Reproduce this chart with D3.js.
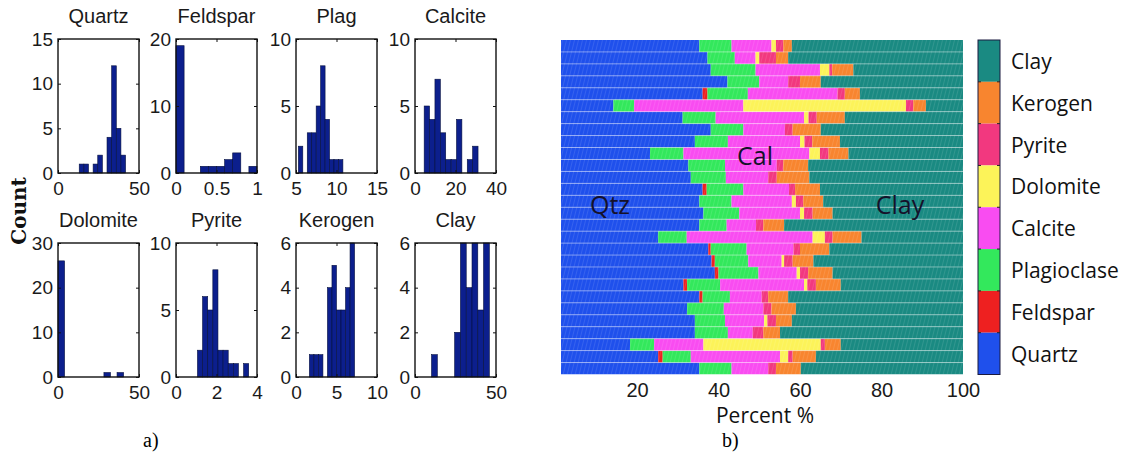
<!DOCTYPE html>
<html>
<head>
<meta charset="utf-8">
<script src="https://cdn.jsdelivr.net/npm/d3@7/dist/d3.min.js"></script>
<style>
  body { margin: 0; background: #fff; }
  svg { display: block; }
</style>
</head>
<body>
<svg id="fig" width="1148" height="462"></svg>
<script>
// ---------- panel a) histogram data ----------
const histNames = ["Quartz", "Feldspar", "Plag", "Calcite", "Dolomite", "Pyrite", "Kerogen", "Clay"];
const histCounts = [
    [1, 1, 0, 1, 2, 0, 4, 12, 5, 2],
    [19, 0, 0, 1, 1, 1, 2, 3, 0, 1],
    [2, 0, 3, 3, 5, 8, 4, 1, 1, 1],
    [5, 4, 7, 3, 1, 1, 4, 0, 1, 2],
    [26, 0, 0, 0, 0, 0, 0, 1, 0, 1],
    [2, 6, 5, 8, 2, 2, 1, 1, 0, 1],
    [1, 1, 1, 0, 4, 5, 3, 3, 4, 6],
    [1, 0, 0, 0, 2, 6, 4, 6, 3, 6]
];
const histBinStart = [13.1, 0, 5.29, 4.53, 0, 1.06, 1.65, 10.2];
const histBinWidth = [2.86, 0.1, 0.55, 2.66, 4.05, 0.253, 0.558, 3.57];
const histXDomain = [[0, 50], [0, 1], [5, 15], [0, 40], [0, 50], [0, 4], [0, 10], [0, 50]];
const histYMax = [15, 20, 10, 10, 30, 10, 6, 6];
const histXTicks = [[0, 50], [0, 0.5, 1], [5, 10, 15], [0, 20, 40], [0, 50], [0, 2, 4], [0, 5, 10], [0, 50]];
const histYTicks = [[0, 5, 10, 15], [0, 10, 20], [0, 5, 10], [0, 5, 10], [0, 10, 20, 30], [0, 5, 10], [0, 2, 4, 6], [0, 2, 4, 6]];

// ---------- panel b) composition of 28 samples (percent), top row first ----------
const minerals = ["Quartz", "Feldspar", "Plagioclase", "Calcite", "Dolomite", "Pyrite", "Kerogen", "Clay"];
const quartz   = [35.3, 37.3, 38.1, 42.2, 36.1, 14.2, 31.2, 38.1, 34.2, 23.2, 32.6, 33.2, 36.1, 35.3, 36.3, 35.3, 25.2, 37.5, 38.3, 39.1, 31.4, 35.3, 32.3, 34.2, 34.2, 18.3, 25.2, 35.3];
const feldspar = [0, 0, 0, 0, 1.2, 0, 0, 0, 0, 0, 0, 0, 1.0, 0, 0, 0, 0, 0.6, 0.8, 0.9, 0.9, 0.8, 0, 0, 0, 0, 1.1, 0];
const plag     = [7.9, 6.7, 11.0, 7.8, 9.9, 5.1, 8.1, 8.0, 8.1, 8.2, 9.0, 8.6, 9.0, 7.9, 8.8, 6.7, 7.0, 8.8, 8.2, 9.8, 8.1, 6.7, 9.0, 7.4, 8.1, 5.9, 6.9, 7.9];
const calcite  = [9.8, 5.1, 15.8, 7.1, 22.0, 26.8, 21.7, 10.2, 17.7, 30.9, 12.7, 10.4, 11.2, 14.8, 14.9, 7.2, 30.9, 11.5, 8.2, 9.4, 20.6, 7.8, 9.7, 9.6, 6.1, 12.1, 21.9, 9.0];
const dolomite = [1.1, 0.9, 2.3, 0, 0, 39.9, 1.1, 0, 1.1, 2.6, 0, 0, 0, 1.0, 1.0, 0, 3.0, 0, 0.6, 0.8, 0.8, 0, 0, 0.8, 0, 28.8, 2.0, 0];
const pyrite   = [1.8, 4.1, 0.7, 2.9, 1.8, 1.8, 2.0, 1.9, 1.9, 2.1, 1.6, 2.1, 1.5, 1.8, 2.1, 1.8, 1.9, 1.6, 2.1, 2.0, 2.1, 1.6, 2.0, 2.1, 2.6, 1.0, 1.1, 1.9];
const kerogen  = [2.1, 3.0, 5.2, 5.1, 3.7, 3.1, 6.9, 6.9, 6.8, 4.9, 6.1, 8.0, 6.1, 4.9, 4.9, 5.1, 7.1, 7.2, 5.1, 6.0, 6.1, 4.9, 6.0, 3.9, 4.1, 3.9, 5.7, 6.1];
const clay     = [42.0, 42.9, 26.9, 34.9, 25.3, 9.1, 29.0, 34.9, 30.2, 28.1, 38.0, 37.7, 35.1, 34.3, 32.0, 43.9, 24.9, 32.8, 36.7, 32.0, 30.0, 42.9, 41.0, 42.0, 44.9, 30.0, 36.1, 39.8];
const percentTicks = [20, 40, 60, 80, 100];

const mineralColors = {
    Quartz: "#1f50ec",
    Feldspar: "#ee2020",
    Plagioclase: "#33e85c",
    Calcite: "#f94cf1",
    Dolomite: "#fcf359",
    Pyrite: "#f2387f",
    Kerogen: "#f8852f",
    Clay: "#1a8a82"
};

const svg = d3.select("#fig");
const tickFont = "'Liberation Sans', Arial, sans-serif";
const calibriLike = "'Open Sans', Lato, sans-serif";

// ---------- panel a) ----------
const boxLefts = [58, 176, 296, 415], boxTops = [39, 243];
const boxW = 81, boxH = 134;

function styleAxis(g) {
    g.select(".domain").remove();
    g.selectAll("line").attr("stroke", "#111");
    g.selectAll("text").attr("font-family", tickFont).attr("font-size", 19).attr("fill", "#1a1a1a");
}

histNames.forEach((name, i) => {
    let left = boxLefts[i % 4], top = boxTops[Math.floor(i / 4)];
    let x = d3.scaleLinear().domain(histXDomain[i]).range([left, left + boxW]);
    let y = d3.scaleLinear().domain([0, histYMax[i]]).range([top + boxH, top]);
    let bins = histCounts[i].map((c, j) => ({
        x0: histBinStart[i] + j * histBinWidth[i],
        x1: histBinStart[i] + (j + 1) * histBinWidth[i],
        count: c
    })).filter(d => d.count > 0);

    let g = svg.append("g");
    g.selectAll("rect.bar")
        .data(bins)
        .enter()
        .append("rect")
        .attr("class", "bar")
        .attr("x", d => x(d.x0))
        .attr("width", d => x(d.x1) - x(d.x0))
        .attr("y", d => y(d.count))
        .attr("height", d => y(0) - y(d.count))
        .attr("fill", "#0c1f8d")
        .attr("stroke", "#05103f")
        .attr("stroke-width", 0.6);

    g.append("g").attr("transform", `translate(${left},0)`)
        .call(d3.axisLeft(y).tickValues(histYTicks[i]).tickSizeInner(-3).tickSizeOuter(0).tickPadding(5).tickFormat(d3.format("~g")))
        .call(styleAxis);
    g.append("g").attr("transform", `translate(${left + boxW},0)`)
        .call(d3.axisRight(y).tickValues(histYTicks[i]).tickSizeInner(-3).tickSizeOuter(0).tickFormat(""))
        .call(styleAxis);
    g.append("g").attr("transform", `translate(0,${top + boxH})`)
        .call(d3.axisBottom(x).tickValues(histXTicks[i]).tickSizeInner(-3).tickSizeOuter(0).tickPadding(9).tickFormat(d3.format("~g")))
        .call(styleAxis);
    g.append("g").attr("transform", `translate(0,${top})`)
        .call(d3.axisTop(x).tickValues(histXTicks[i]).tickSizeInner(-3).tickSizeOuter(0).tickFormat(""))
        .call(styleAxis);

    g.append("rect")
        .attr("x", left).attr("y", top)
        .attr("width", boxW).attr("height", boxH)
        .attr("fill", "none").attr("stroke", "#111").attr("stroke-width", 1.4);

    g.append("text")
        .attr("x", left + boxW / 2).attr("y", top - 16)
        .attr("text-anchor", "middle")
        .attr("font-family", tickFont).attr("font-size", 20).attr("fill", "#1a1a1a")
        .text(name);
});

svg.append("text")
    .attr("transform", "translate(26,211) rotate(-90)")
    .attr("text-anchor", "middle")
    .attr("font-family", "'DejaVu Serif', serif").attr("font-size", 20).attr("font-weight", "bold")
    .attr("fill", "#111")
    .text("Count");

// ---------- panel b) ----------
let table = quartz.map((q, i) => ({
    Quartz: q, Feldspar: feldspar[i], Plagioclase: plag[i], Calcite: calcite[i],
    Dolomite: dolomite[i], Pyrite: pyrite[i], Kerogen: kerogen[i], Clay: clay[i]
}));
let series = d3.stack().keys(minerals)(table);

let xB = d3.scaleLinear().domain([0, 100]).range([555.5, 963]);
let yB = d3.scaleBand().domain(d3.range(table.length)).range([40, 374.5]);

let defs = svg.append("defs");
defs.append("clipPath").attr("id", "plotClip")
    .append("rect").attr("x", 561).attr("y", 40).attr("width", 963 - 561).attr("height", 334.5);
let pat = defs.append("pattern").attr("id", "hatch")
    .attr("patternUnits", "userSpaceOnUse").attr("width", 4).attr("height", 12)
    .attr("patternTransform", "skewX(-14)");
pat.append("line").attr("x1", 0.5).attr("y1", 0).attr("x2", 0.5).attr("y2", 12)
    .attr("stroke", "#fff").attr("stroke-width", 0.8).attr("stroke-opacity", 0.13);

let plot = svg.append("g").attr("clip-path", "url(#plotClip)");
plot.selectAll("g.layer")
    .data(series)
    .enter()
    .append("g")
    .attr("class", "layer")
    .attr("fill", d => mineralColors[d.key])
    .selectAll("rect")
    .data(d => d)
    .enter()
    .append("rect")
    .attr("x", d => xB(d[0]))
    .attr("width", d => Math.max(0, xB(d[1]) - xB(d[0])))
    .attr("y", (d, i) => yB(i))
    .attr("height", yB.bandwidth());

plot.append("rect")
    .attr("x", 561).attr("y", 40).attr("width", 963 - 561).attr("height", 334.5)
    .attr("fill", "url(#hatch)");

// faint row separators
plot.selectAll("line.sep")
    .data(d3.range(1, table.length))
    .enter()
    .append("line")
    .attr("class", "sep")
    .attr("x1", 561).attr("x2", 963)
    .attr("y1", d => yB(d)).attr("y2", d => yB(d))
    .attr("stroke", "#ffffff").attr("stroke-opacity", 0.4).attr("stroke-width", 1);

svg.append("g").attr("transform", "translate(0,374.5)")
    .call(d3.axisBottom(xB).tickValues(percentTicks).tickSize(0).tickPadding(8))
    .call(g => {
        g.select(".domain").remove();
        g.selectAll("text").attr("font-family", tickFont).attr("font-size", 20).attr("fill", "#1a1a1a");
    });

svg.append("text")
    .attr("x", 765).attr("y", 423)
    .attr("text-anchor", "middle")
    .attr("font-family", calibriLike).attr("font-size", 21).attr("fill", "#111")
    .text("Percent %");

const inner = [["Qtz", 610, 214], ["Cal", 755, 165], ["Clay", 900, 214]];
svg.selectAll("text.inner")
    .data(inner)
    .enter()
    .append("text")
    .attr("class", "inner")
    .attr("x", d => d[1]).attr("y", d => d[2])
    .attr("text-anchor", "middle")
    .attr("font-family", calibriLike).attr("font-size", 25).attr("fill", "#15112a")
    .text(d => d[0]);

// colour bar legend
let legendKeys = minerals.slice().reverse();
let yL = d3.scaleBand().domain(legendKeys).range([40, 374.5]);
let legend = svg.append("g");
legend.selectAll("rect.sw")
    .data(legendKeys)
    .enter()
    .append("rect")
    .attr("class", "sw")
    .attr("x", 978).attr("width", 22)
    .attr("y", d => yL(d)).attr("height", yL.bandwidth())
    .attr("fill", d => mineralColors[d]);
legend.selectAll("path.tk")
    .data(legendKeys.slice(1))
    .enter()
    .append("path")
    .attr("class", "tk")
    .attr("d", d => `M978,${yL(d)}h3M1000,${yL(d)}h-3`)
    .attr("stroke", "#222").attr("stroke-width", 1);
legend.append("rect")
    .attr("x", 978).attr("y", 40).attr("width", 22).attr("height", 334.5)
    .attr("fill", "none").attr("stroke", "#1a1a40").attr("stroke-width", 1);
legend.selectAll("text")
    .data(legendKeys)
    .enter()
    .append("text")
    .attr("x", 1011)
    .attr("y", d => yL(d) + yL.bandwidth() / 2 + 8)
    .attr("font-family", calibriLike).attr("font-size", 21).attr("fill", "#111")
    .text(d => d);

// captions
svg.append("text").attr("x", 143).attr("y", 447)
    .attr("font-family", "'Liberation Serif', 'Times New Roman', serif").attr("font-size", 20)
    .text("a)");
svg.append("text").attr("x", 722).attr("y", 447)
    .attr("font-family", "'Liberation Serif', 'Times New Roman', serif").attr("font-size", 20)
    .text("b)");
</script>
</body>
</html>
